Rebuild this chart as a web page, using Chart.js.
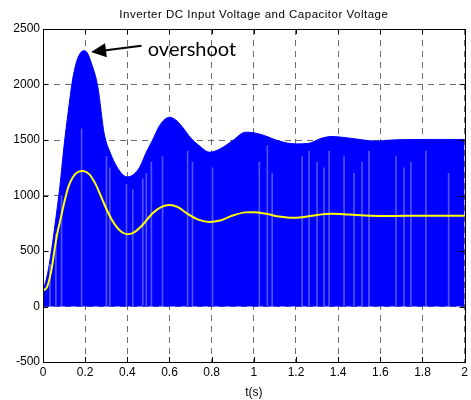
<!DOCTYPE html>
<html>
<head>
<meta charset="utf-8">
<script src="https://cdn.jsdelivr.net/npm/chart.js@4"></script>
<style>
  body { margin: 0; background: #fff; }
  #wrap { width: 471px; height: 400px; }
</style>
</head>
<body>
<div id="wrap"><canvas id="myChart" width="471" height="400"></canvas></div>
<script>
// envelope of the switched DC input voltage (blue) and capacitor voltage (yellow)
const envT = [0, 0.02, 0.04, 0.06, 0.08, 0.10, 0.12, 0.14, 0.16, 0.18, 0.195, 0.21, 0.23, 0.26, 0.29, 0.32, 0.35, 0.38, 0.40, 0.43, 0.46, 0.49, 0.52, 0.55, 0.58, 0.60, 0.63, 0.66, 0.70, 0.74, 0.79, 0.84, 0.90, 0.96, 1.00, 1.05, 1.12, 1.20, 1.26, 1.32, 1.37, 1.44, 1.52, 1.58, 1.65, 1.80, 2.00];
const envV = [140, 280, 500, 780, 1080, 1450, 1760, 2040, 2210, 2290, 2305, 2285, 2190, 1980, 1560, 1380, 1260, 1185, 1168, 1190, 1260, 1390, 1500, 1620, 1690, 1705, 1680, 1620, 1520, 1450, 1390, 1420, 1495, 1570, 1565, 1540, 1490, 1465, 1470, 1515, 1532, 1520, 1500, 1490, 1500, 1505, 1505];

const capT = [0, 0.02, 0.04, 0.057, 0.07, 0.08, 0.10, 0.12, 0.14, 0.16, 0.19, 0.22, 0.25, 0.28, 0.31, 0.34, 0.37, 0.40, 0.43, 0.47, 0.52, 0.56, 0.60, 0.64, 0.69, 0.74, 0.79, 0.84, 0.90, 0.96, 1.00, 1.06, 1.12, 1.17, 1.23, 1.30, 1.37, 1.45, 1.55, 1.65, 1.80, 2.00];
const capV = [140, 180, 330, 540, 680, 760, 930, 1075, 1160, 1205, 1220, 1190, 1100, 970, 840, 740, 675, 650, 665, 730, 840, 895, 915, 895, 830, 780, 762, 775, 820, 848, 850, 835, 810, 800, 805, 825, 835, 828, 818, 815, 818, 818];

// light gaps in the switching waveform
const gapT = [0.033, 0.061, 0.088, 0.183, 0.301, 0.317, 0.396, 0.426, 0.473, 0.49, 0.514, 0.567, 0.686, 0.709, 0.804, 1.026, 1.064, 1.087, 1.229, 1.262, 1.30, 1.333, 1.357, 1.428, 1.475, 1.513, 1.546, 1.674, 1.712, 1.745, 1.816, 1.924];
const gapV = [380, 650, 1000, 1600, 1350, 1250, 1100, 1050, 1150, 1200, 1300, 1350, 1400, 1300, 1250, 1300, 1450, 1200, 1350, 1400, 1300, 1250, 1400, 1350, 1200, 1300, 1400, 1350, 1250, 1300, 1400, 1200];

const xTicks = [0, 0.2, 0.4, 0.6, 0.8, 1, 1.2, 1.4, 1.6, 1.8, 2];
const yTicks = [-500, 0, 500, 1000, 1500, 2000, 2500];

const titleText = 'Inverter DC Input Voltage and Capacitor Voltage';

// annotation: arrow tail, arrow tip, text anchor (data coords)
const arrowTail = [0.467, 2350];
const arrowTip = [0.228, 2292];
const noteAt = [0.497, 2255];
const noteText = 'overshoot';

const toXY = (ts, vs) => ts.map((t, i) => ({ x: t, y: vs[i] }));

const matlabBox = {
  id: 'matlabBox',
  afterDatasetsDraw(chart) {
    const { ctx, chartArea: a, scales } = chart;
    ctx.save();
    ctx.strokeStyle = '#000';
    ctx.lineWidth = 1;
    // short inner ticks
    ctx.beginPath();
    xTicks.forEach(v => {
      const x = Math.round(scales.x.getPixelForValue(v)) + 0.5;
      ctx.moveTo(x, a.bottom); ctx.lineTo(x, a.bottom - 5);
      ctx.moveTo(x, a.top); ctx.lineTo(x, a.top + 5);
    });
    yTicks.forEach(v => {
      const y = Math.round(scales.y.getPixelForValue(v)) + 0.5;
      ctx.moveTo(a.left, y); ctx.lineTo(a.left + 5, y);
      ctx.moveTo(a.right, y); ctx.lineTo(a.right - 5, y);
    });
    ctx.stroke();
    ctx.strokeRect(Math.round(a.left) + 0.5, Math.round(a.top) + 0.5, Math.round(a.right - a.left), Math.round(a.bottom - a.top));

    // title, centred over the plot box like matlab does
    ctx.fillStyle = '#000';
    ctx.font = '11.5px "Liberation Sans"';
    if ('letterSpacing' in ctx) ctx.letterSpacing = '0.5px';
    ctx.textAlign = 'center';
    ctx.textBaseline = 'middle';
    ctx.fillText(titleText, (a.left + a.right) / 2, 14.5);
    if ('letterSpacing' in ctx) ctx.letterSpacing = '0px';

    // arrow
    const x0 = scales.x.getPixelForValue(arrowTail[0]), y0 = scales.y.getPixelForValue(arrowTail[1]);
    const x1 = scales.x.getPixelForValue(arrowTip[0]), y1 = scales.y.getPixelForValue(arrowTip[1]);
    const ang = Math.atan2(y1 - y0, x1 - x0);
    const hl = 15, hw = 7;
    const bx = x1 - hl * Math.cos(ang), by = y1 - hl * Math.sin(ang);
    ctx.lineWidth = 2;
    ctx.beginPath();
    ctx.moveTo(x0, y0); ctx.lineTo(bx, by);
    ctx.stroke();
    ctx.beginPath();
    ctx.moveTo(x1, y1);
    ctx.lineTo(bx + hw * Math.sin(ang), by - hw * Math.cos(ang));
    ctx.lineTo(bx - hw * Math.sin(ang), by + hw * Math.cos(ang));
    ctx.closePath();
    ctx.fill();

    ctx.font = '20px Lato';
    ctx.textAlign = 'left';
    ctx.textBaseline = 'alphabetic';
    ctx.fillText(noteText, scales.x.getPixelForValue(noteAt[0]), scales.y.getPixelForValue(noteAt[1]));
    ctx.restore();
  }
};

const ctx = document.getElementById('myChart');

new Chart(ctx, {
  type: 'line',
  data: {
    datasets: [
      {
        label: 'Capacitor voltage',
        data: toXY(capT, capV),
        borderColor: '#ffff00',
        borderWidth: 2,
        pointRadius: 0,
        fill: false,
        cubicInterpolationMode: 'monotone',
        order: 0
      },
      {
        type: 'bar',
        label: 'gaps',
        data: toXY(gapT, gapV),
        backgroundColor: 'rgba(150,150,255,0.55)',
        barThickness: 1,
        order: 1
      },
      {
        label: 'Inverter DC input voltage',
        data: toXY(envT, envV),
        borderColor: '#0000ff',
        backgroundColor: '#0000ff',
        borderWidth: 1,
        pointRadius: 0,
        fill: 'origin',
        cubicInterpolationMode: 'monotone',
        order: 2
      }
    ]
  },
  options: {
    responsive: false,
    animation: false,
    layout: { padding: { left: 0, right: 5, top: 29, bottom: 0 } },
    plugins: {
      legend: { display: false },
      tooltip: { enabled: false },
      title: { display: false }
    },
    scales: {
      x: {
        type: 'linear',
        min: 0, max: 2,
        offset: false,
        afterBuildTicks: s => { s.ticks = xTicks.map(v => ({ value: v })); },
        afterFit: s => { s.height = 38; },
        ticks: {
          color: '#000',
          font: { family: 'Liberation Sans', size: 12 },
          padding: 3,
          maxRotation: 0,
          callback: v => String(v)
        },
        grid: { color: '#6e6e6e', lineWidth: 1, drawTicks: false, offset: false },
        border: { display: false, dash: [6, 5] },
        title: {
          display: true, text: 't(s)', color: '#000',
          font: { family: 'Liberation Sans', size: 12 },
          padding: { top: 1, bottom: 0 }
        }
      },
      y: {
        min: -500, max: 2500,
        afterBuildTicks: s => { s.ticks = yTicks.map(v => ({ value: v })); },
        afterFit: s => { s.width = 43; },
        ticks: {
          color: '#000',
          font: { family: 'Liberation Sans', size: 12 },
          padding: 3,
          callback: v => String(v)
        },
        grid: { color: '#6e6e6e', lineWidth: 1, drawTicks: false },
        border: { display: false, dash: [6, 5] }
      }
    }
  },
  plugins: [matlabBox]
});
</script>
</body>
</html>
